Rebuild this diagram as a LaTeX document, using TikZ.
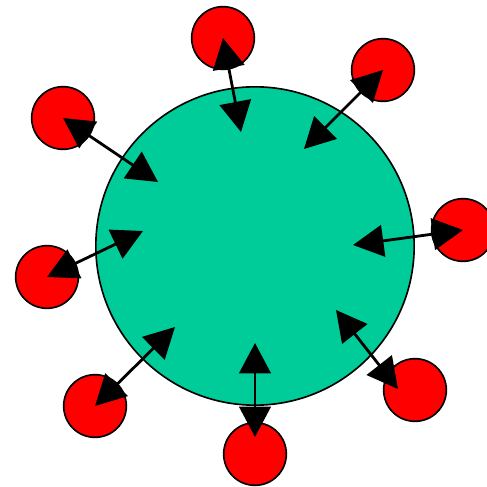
\documentclass[tikz,border=0pt]{standalone}
\usetikzlibrary{arrows.meta}
\definecolor{hubgreen}{RGB}{0,204,153}
\definecolor{ballred}{RGB}{255,0,0}
\tikzset{
  hub/.style={circle, draw=black, line width=1.4pt, fill=hubgreen, minimum size=9.55cm, inner sep=0pt},
  ball/.style={circle, draw=black, line width=1.4pt, fill=ballred, minimum size=1.88cm, inner sep=0pt},
  link/.style={line width=2.4pt, {Triangle[length=26pt,width=27pt]}-{Triangle[length=26pt,width=27pt]}}
}
\begin{document}
\begin{tikzpicture}[x=0.03cm, y=-0.03cm]
  \useasboundingbox (0,0) rectangle (486,487);
  % 中心大圆
  \node[hub] (core) at (255,246) {};
  % 外围小圆
  \node[ball] (b1) at (223,38) {};
  \node[ball] (b2) at (383,70) {};
  \node[ball] (b3) at (463,230) {};
  \node[ball] (b4) at (415,390) {};
  \node[ball] (b5) at (255,454) {};
  \node[ball] (b6) at (95,406) {};
  \node[ball] (b7) at (47,277) {};
  \node[ball] (b8) at (63,118) {};
  % 箭头端点
  \coordinate (in1) at (241,132);
  \coordinate (in2) at (304,149);
  \coordinate (in3) at (353,245);
  \coordinate (in4) at (336,310);
  \coordinate (out4) at (398,389);
  \coordinate (in5) at (255,343);
  \coordinate (out5) at (255,437);
  \coordinate (in6) at (175,327);
  \coordinate (in7) at (143,231);
  \coordinate (in8) at (158,182);
  % 双向箭头
  \draw[link] (b1.center) -- (in1);
  \draw[link] (b2.center) -- (in2);
  \draw[link] (b3.center) -- (in3);
  \draw[link] (out4) -- (in4);
  \draw[link] (out5) -- (in5);
  \draw[link] (b6.center) -- (in6);
  \draw[link] (b7.center) -- (in7);
  \draw[link] (b8.center) -- (in8);
\end{tikzpicture}
\end{document}
